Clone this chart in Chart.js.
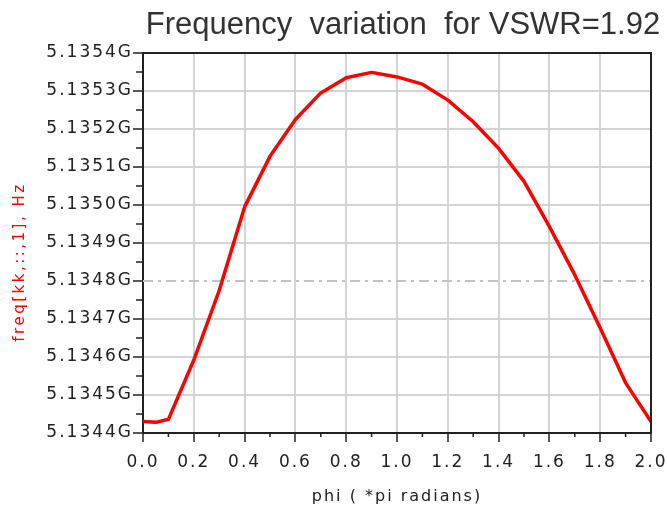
<!DOCTYPE html>
<html>
<head>
<meta charset="utf-8">
<script src="https://cdn.jsdelivr.net/npm/chart.js@4.4.1/dist/chart.umd.min.js"></script>
<style>
  html, body { margin: 0; padding: 0; background: #fff; }
  #wrap { width: 667px; height: 512px; }
</style>
</head>
<body>
<div id="wrap"><canvas id="chart"></canvas></div>
<script>
// ===== Data =====
var phi = [0, 0.05, 0.1, 0.2, 0.3, 0.4, 0.5, 0.6, 0.7, 0.8, 0.9, 1.0,
           1.1, 1.2, 1.3, 1.4, 1.5, 1.6, 1.7, 1.8, 1.9, 2.0];
var freqGHz = [5.134430, 5.134428, 5.134436, 5.134592, 5.134775, 5.134995,
               5.135128, 5.135225, 5.135295, 5.135335, 5.135349, 5.135337,
               5.135318, 5.135276, 5.135219, 5.135149, 5.135062, 5.134943,
               5.134816, 5.134676, 5.134532, 5.134430];

var xTicks = [0, 0.2, 0.4, 0.6, 0.8, 1.0, 1.2, 1.4, 1.6, 1.8, 2.0];
var xMinorTicks = [0.1, 0.3, 0.5, 0.7, 0.9, 1.1, 1.3, 1.5, 1.7, 1.9];
var yTicks = [5.1344, 5.1345, 5.1346, 5.1347, 5.1348, 5.1349,
              5.1350, 5.1351, 5.1352, 5.1353, 5.1354];
var yMinorTicks = [5.13445, 5.13455, 5.13465, 5.13475, 5.13485,
                   5.13495, 5.13505, 5.13515, 5.13525, 5.13535];
var refLevel = 5.1348;

var titleText = "Frequency  variation  for VSWR=1.92";
var yTitleText = "freq[kk,::,1], Hz";
var xTitleText = "phi ( *pi radians)";

var FONT = "'DejaVu Sans', sans-serif";
var INK = "#222222";
var GRID = "#d4d4d4";

// ===== Decorations: spacing, reference line, frame, minor ticks, titles =====
var decor = {
  id: "decor",
  beforeDraw: function(chart) {
    chart.ctx.letterSpacing = "2px";
  },
  beforeDatasetsDraw: function(chart) {
    var ctx = chart.ctx, a = chart.chartArea;
    var y = chart.scales.y.getPixelForValue(refLevel);
    ctx.save();
    ctx.strokeStyle = "#c4c4c4";
    ctx.lineWidth = 2;
    ctx.setLineDash([10, 5, 3, 5]);
    ctx.beginPath();
    ctx.moveTo(a.left, y);
    ctx.lineTo(a.right, y);
    ctx.stroke();
    ctx.restore();
  },
  afterDraw: function(chart) {
    var ctx = chart.ctx, a = chart.chartArea;
    var xs = chart.scales.x, ys = chart.scales.y;
    ctx.save();
    ctx.strokeStyle = INK;
    ctx.lineWidth = 2;
    ctx.beginPath();
    ctx.moveTo(a.left, a.top);
    ctx.lineTo(a.right, a.top);
    ctx.lineTo(a.right, a.bottom);
    ctx.stroke();

    ctx.lineWidth = 1.5;
    ctx.beginPath();
    yMinorTicks.forEach(function(v) {
      var py = ys.getPixelForValue(v);
      ctx.moveTo(a.left - 7, py);
      ctx.lineTo(a.left, py);
    });
    xMinorTicks.forEach(function(v) {
      var px = xs.getPixelForValue(v);
      ctx.moveTo(px, a.bottom);
      ctx.lineTo(px, a.bottom + 4);
    });
    ctx.stroke();

    ctx.letterSpacing = "0px";
    ctx.fillStyle = "#333";
    ctx.font = "31px 'Liberation Sans', Arial, sans-serif";
    ctx.textAlign = "center";
    ctx.textBaseline = "alphabetic";
    ctx.fillText(titleText, 403, 34);

    ctx.letterSpacing = "2.5px";
    ctx.fillStyle = "#ff0000";
    ctx.font = "15px " + FONT;
    ctx.translate(24, 262);
    ctx.rotate(-Math.PI / 2);
    ctx.fillText(yTitleText, 0, 0);
    ctx.restore();
    ctx.letterSpacing = "0px";
  }
};

var points = phi.map(function(p, i) { return { x: p, y: freqGHz[i] }; });

new Chart(document.getElementById("chart"), {
  type: "line",
  data: {
    datasets: [{
      data: points,
      borderColor: "#ff0000",
      borderWidth: 3.5,
      borderJoinStyle: "round",
      pointRadius: 0,
      tension: 0,
      fill: false
    }]
  },
  options: {
    responsive: true,
    maintainAspectRatio: false,
    animation: false,
    events: [],
    layout: { padding: { top: 53, right: 16, bottom: 0, left: 0 } },
    plugins: {
      legend: { display: false },
      tooltip: { enabled: false }
    },
    scales: {
      x: {
        type: "linear",
        min: 0,
        max: 2,
        afterBuildTicks: function(s) {
          s.ticks = xTicks.map(function(v) { return { value: v }; });
        },
        afterFit: function(s) {
          s.height = 79;
          s.paddingLeft = 0;
          s.paddingRight = 0;
        },
        ticks: {
          autoSkip: false,
          maxRotation: 0,
          padding: 10,
          color: INK,
          font: { family: FONT, size: 17 },
          callback: function(v) { return Number(v).toFixed(1); }
        },
        grid: {
          color: GRID,
          lineWidth: 2,
          tickColor: INK,
          tickLength: 9,
          tickWidth: 1.5
        },
        border: { color: INK, width: 2 },
        title: {
          display: true,
          text: xTitleText,
          color: INK,
          font: { family: FONT, size: 16 },
          padding: { top: 0, bottom: 6 }
        }
      },
      y: {
        min: 5.1344,
        max: 5.1354,
        afterBuildTicks: function(s) {
          s.ticks = yTicks.map(function(v) { return { value: v }; });
        },
        afterFit: function(s) {
          s.width = 143;
          s.paddingTop = 0;
          s.paddingBottom = 0;
        },
        ticks: {
          padding: 0,
          color: INK,
          font: { family: FONT, size: 17 },
          callback: function(v) { return Number(v).toFixed(4) + "G"; }
        },
        grid: {
          color: function(c) {
            return c.tick && Math.abs(c.tick.value - refLevel) < 1e-9 ? "rgba(0,0,0,0)" : GRID;
          },
          lineWidth: 2,
          tickColor: INK,
          tickLength: 10,
          tickWidth: 1.5
        },
        border: { color: INK, width: 2 }
      }
    }
  },
  plugins: [decor]
});
</script>
</body>
</html>
